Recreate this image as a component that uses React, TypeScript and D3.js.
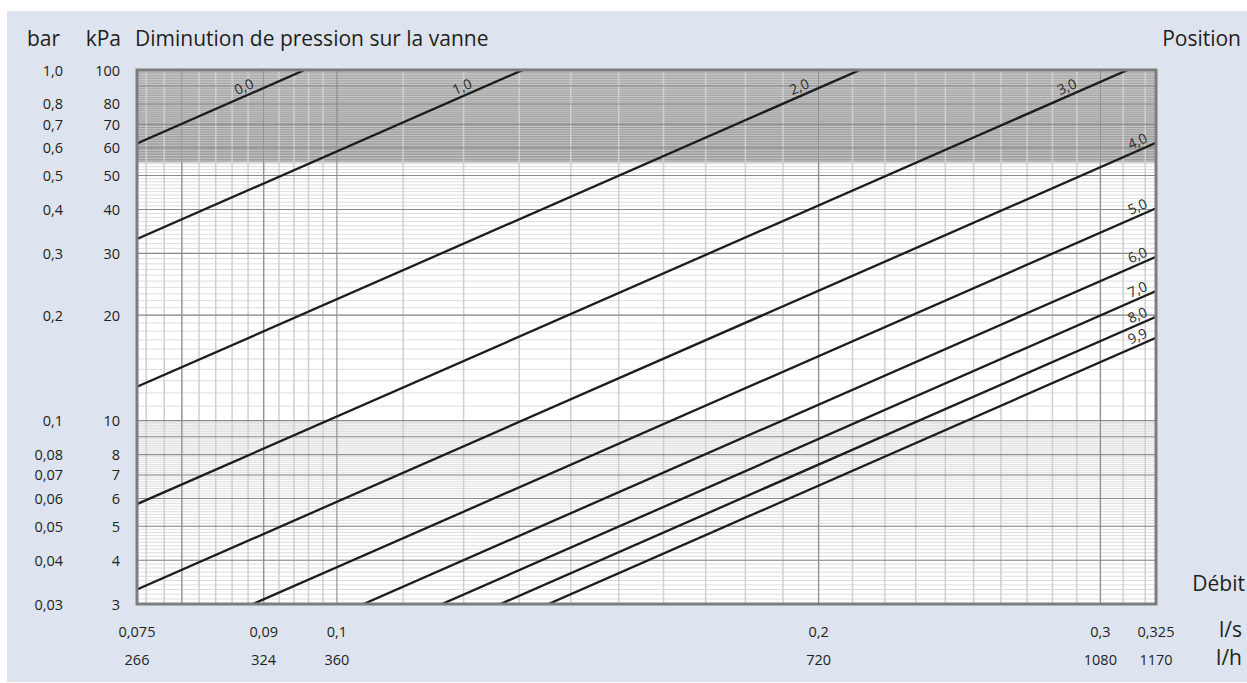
import React from "react";
import * as d3 from "d3";

// ---- Data ----
const positions = ["0,0", "1,0", "2,0", "3,0", "4,0", "5,0", "6,0", "7,0", "8,0", "9,9"];
// Kv (m³/h) of each valve position
const kvValues = [0.3436, 0.4703, 0.764, 1.123, 1.486, 1.842, 2.16, 2.418, 2.63, 2.818];

const flowTicksLs = [0.075, 0.09, 0.1, 0.2, 0.3, 0.325];
const flowLabelsLs = ["0,075", "0,09", "0,1", "0,2", "0,3", "0,325"];
const flowLabelsLh = ["266", "324", "360", "720", "1080", "1170"];

const pressureTicksKpa = [100, 80, 70, 60, 50, 40, 30, 20, 10, 8, 7, 6, 5, 4, 3];
const pressureLabelsKpa = ["100", "80", "70", "60", "50", "40", "30", "20", "10", "8", "7", "6", "5", "4", "3"];
const pressureLabelsBar = ["1,0", "0,8", "0,7", "0,6", "0,5", "0,4", "0,3", "0,2", "0,1", "0,08", "0,07", "0,06", "0,05", "0,04", "0,03"];

const flowDomain = [0.075, 0.325];
const pressureDomain = [3, 100];
const shadedAboveKpa = 54.5;

const majorFlowGrid = [0.08, 0.09, 0.1, 0.2, 0.3];
const minorFlowGrid = [
  ...d3.range(38, 50).map((i) => i / 500),
  ...d3.range(11, 33).map((i) => i / 100),
];
const minorPressureGrid = [
  ...d3.range(31, 100).map((i) => i / 10),
  ...d3.range(11, 100),
];
const majorPressureGrid = [4, 5, 6, 7, 8, 9, 10, 20, 30, 40, 50, 60, 70, 80, 90];

// ---- Layout ----
const W = 1247;
const H = 683;
const plot = { left: 137, right: 1156, top: 70, bottom: 604 };
const FONT = "'Open Sans', 'Noto Sans', sans-serif";
const TEXT = "#231f20";

const x = d3.scaleLog().domain(flowDomain).range([plot.left, plot.right]);
const y = d3.scaleLog().domain(pressureDomain).range([plot.bottom, plot.top]);

// pressure drop (kPa) for flow q (l/s) through Kv (m³/h)
const dp = (q: number, kv: number) => 100 * Math.pow((q * 3.6) / kv, 2);

export default function App() {
  const line = d3.line<number>().x((q) => x(q));

  return (
    <svg
      width={W}
      height={H}
      style={{ position: "absolute", left: 0, top: 0, fontFamily: FONT }}
    >
      <defs>
        <clipPath id="plotClip">
          <rect x={plot.left} y={plot.top} width={plot.right - plot.left} height={plot.bottom - plot.top} />
        </clipPath>
      </defs>
      <rect x={7} y={11} width={W - 7} height={671} fill="#dde4ef" />
      <rect x={plot.left} y={plot.top} width={plot.right - plot.left} height={plot.bottom - plot.top} fill="#ffffff" />
      <rect
        x={plot.left}
        y={y(100)}
        width={plot.right - plot.left}
        height={y(shadedAboveKpa) - y(100)}
        fill="#9d9d9d"
      />
      {/* minor grid */}
      <g stroke="#d4d4d4" strokeWidth={0.8}>
        {minorPressureGrid.map((p, i) => (
          <line key={"hy" + i} x1={plot.left} x2={plot.right} y1={y(p)} y2={y(p)} />
        ))}
        {minorFlowGrid.map((q, i) => (
          <line key={"vx" + i} x1={x(q)} x2={x(q)} y1={plot.top} y2={plot.bottom} strokeWidth={1.5} stroke="#cfcfcf" />
        ))}
      </g>
      {/* major grid */}
      <g stroke="#8a8a8a" strokeWidth={1.1}>
        {majorFlowGrid.map((q, i) => (
          <line key={"VX" + i} x1={x(q)} x2={x(q)} y1={plot.top} y2={plot.bottom} />
        ))}
        {majorPressureGrid.map((p, i) => (
          <line key={"HY" + i} x1={plot.left} x2={plot.right} y1={y(p)} y2={y(p)} />
        ))}
      </g>
      {/* curves */}
      <g clipPath="url(#plotClip)" fill="none" stroke="#1c1c1c" strokeWidth={2.3}>
        {kvValues.map((kv, i) => (
          <path key={"c" + i} d={line.y((q) => y(dp(q, kv)))(flowDomain) || ""} />
        ))}
      </g>
      {/* curve labels */}
      <g fontSize={14} fill="#2a2a2a" textAnchor="middle">
        {kvValues.map((kv, i) => {
          const qTop = kv / 3.6;
          const xl = Math.min(x(qTop) - 57, 1141);
          const q = x.invert(xl);
          const yl = y(dp(q, kv));
          const x2 = xl + 50;
          const y2 = y(dp(x.invert(x2), kv));
          const ang = (Math.atan2(y2 - yl, x2 - xl) * 180) / Math.PI;
          return (
            <text key={"l" + i} transform={`translate(${xl},${yl}) rotate(${ang})`} dy={-4}>
              {positions[i]}
            </text>
          );
        })}
      </g>
      {/* frame */}
      <rect
        x={plot.left}
        y={plot.top}
        width={plot.right - plot.left}
        height={plot.bottom - plot.top}
        fill="none"
        stroke="#7d7d7d"
        strokeWidth={3}
      />
      {/* titles */}
      <g fontSize={21} fill={TEXT}>
        <text x={60} y={46} textAnchor="end">bar</text>
        <text x={121} y={46} textAnchor="end">kPa</text>
        <text x={135} y={46}>Diminution de pression sur la vanne</text>
        <text x={1241} y={46} textAnchor="end">Position</text>
        <text x={1245} y={591} textAnchor="end">Débit</text>
      </g>
      <g fontSize={21} fill={TEXT} textAnchor="end" dominantBaseline="central">
        <text x={1242} y={629}>l/s</text>
        <text x={1242} y={657}>l/h</text>
      </g>
      {/* y tick labels */}
      <g fontSize={14.5} fill={TEXT} textAnchor="end" dominantBaseline="central">
        {pressureTicksKpa.map((p, i) => (
          <g key={"yt" + i}>
            <text x={63} y={y(p)}>{pressureLabelsBar[i]}</text>
            <text x={120} y={y(p)}>{pressureLabelsKpa[i]}</text>
          </g>
        ))}
      </g>
      {/* x tick labels */}
      <g fontSize={14.5} fill={TEXT} textAnchor="middle" dominantBaseline="central">
        {flowTicksLs.map((q, i) => (
          <g key={"xt" + i}>
            <text x={x(q)} y={631}>{flowLabelsLs[i]}</text>
            <text x={x(q)} y={659}>{flowLabelsLh[i]}</text>
          </g>
        ))}
      </g>
    </svg>
  );
}
